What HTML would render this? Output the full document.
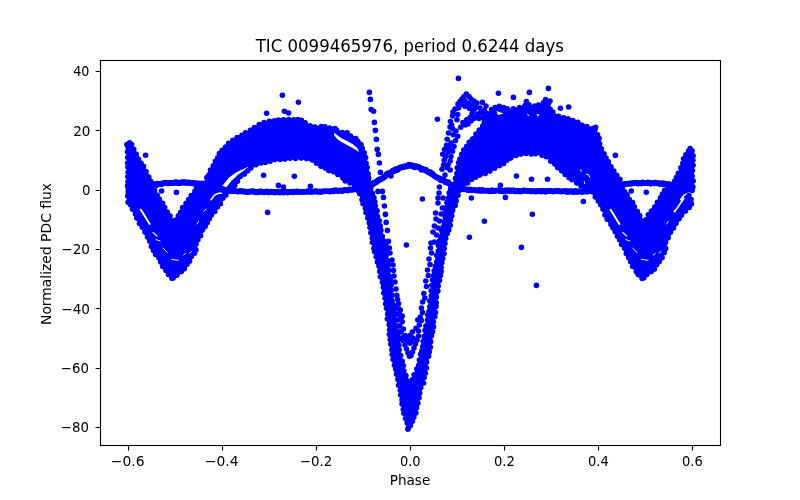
<!DOCTYPE html>
<html lang="en"><head><meta charset="utf-8"><title>TIC 0099465976, period 0.6244 days</title>
<style>html,body{margin:0;padding:0;background:#fff;overflow:hidden}svg{display:block}</style></head>
<body>
<svg width="800" height="500" viewBox="0 0 800 500">
<rect width="800" height="500" fill="#fff"/>
<g fill="#0000ff">
<polygon points="125.6,143 127,141 129,140.5 131.5,141 133,143 140,156 147,168.5 154,181 158,184 198,184 203,181 208.5,170 214,158.5 217.5,152.5 225,144 231,139.2 237,135.2 245,131.3 250,128.2 257.5,123.5 265,120.5 272.5,118.2 280,117.2 290,117.2 300,116.8 303,118.5 307,121.5 310,123.5 317.5,125 322,124.2 328,125.7 336,126 340,129.5 345.5,130.3 352,133.3 360,139.2 363.5,145 365.5,150.5 368,160 370,170 372,180 374,190 377,202 380,216 383,230 387.5,245 389.5,258 391.5,272 393.5,288 395.5,305 397.5,324 399.8,340 402.8,356 406,369 409,377 410.2,378.5 411.3,377 414.8,369 418,356 421,340 424.3,324 428,300 430.8,280 434,260 437.5,240 441,225 443.5,210 447,190 452,184 456,164 460,152 470,138 480,126 486,114 490,108 494,106 499.5,104.5 505,106.5 510,107.5 516,106.5 521,105 525,102.7 529,103 532.5,104 540,103 543,100.5 545.5,99 548,99.5 550.5,101 552,107.5 555,111.5 558,113.7 563,115.2 568.5,116.5 577.5,120 585,123.5 590,125.2 596,127 600,136 604,148 610,160 616,170 622,180 626,183 668,183 672,180 678,170 683,155 687,149 691.6,146.5 694.6,148.5 695,152 695,190 694,192 690,193.5 692,196 693.6,199 693.6,204 691,208 686.5,213 679,223.5 675.5,229 671.5,236.5 668,244 667.5,251.5 663,259 656,270 650,275.5 645,279.5 642,281 637,277 630,266 622,250 614,234 606,221 600,209 594,198 590,191 462,191 460,196 456,210 452,225 448,240 445,260 442,280 438.8,300 435.6,324 432.4,348 429,364 426,380 423,390 419,410 414,422 411,430 409.5,431.5 407.6,430.5 405,424 401,410 398,392 394,375 390,357 388,340 386,322 383,300 379,280 375,260 372,250 369,234 366,220 362,206 358,195 356,191 230,191 229,194.5 225,199.8 221.8,205 217.5,210.5 209.5,223 206,229 202,236.5 198.3,244 197.8,251.5 193.3,259 186.3,270 180.3,275.5 175.3,279.5 172.3,281 168,278 161,267 151,250 141,230 128,206 125.6,203" stroke="#fff" stroke-width="2.2" stroke-linejoin="round"/>
</g>
<g fill="#fff">
<polygon points="154,185 196,185 174,218.5" stroke="#fff" stroke-width="2.2" stroke-linejoin="round"/>
<polygon points="624,185 666,185 644,218.5" stroke="#fff" stroke-width="2.2" stroke-linejoin="round"/>
<polygon points="235,192 236.6,185.8 240.8,180.4 248,173.2 254,168.4 260,166 267,164.2 274,162.4 284,161.8 291,160.6 300,160 310,162 320,167.7 326,172.3 334,174.8 340,178.8 344,182.5 352,186.3 356,192" stroke="#fff" stroke-width="2.2" stroke-linejoin="round"/>
<polygon points="463,191 466,186 468,185 476,179.5 488,174.5 496,170 506,164 516,158 526,156 538,156 546,159 552,165 560,173 568,180 578,186 584,191" stroke="#fff" stroke-width="2.2" stroke-linejoin="round"/>
<polygon points="222,186.2 226.3,187.3 231.8,180.6 237.8,175 245,169.8 248,167.6 247.5,167 244.5,168.6 236,172.5 229,177.6"/>
<polygon points="334.2,132.5 337,135 341,138 347,141 353,144.3 357.5,148.3 359,152 353,148.3 347,145 341,141.8 337,138.8 334.2,135.5"/>
<polygon points="683.5,197 684.8,198.5 675,212.8 673.8,212"/>
<polygon points="496.5,111 503.5,113.5 498,115"/>
<polygon points="527.3,113 529.3,116 527.8,116"/>
<polygon points="536.5,114 539.8,114.5 537.5,116.8"/>
<polygon points="580.3,169.2 582.2,171 581.5,171.8 579.8,170"/>
<polygon points="586.3,173.3 589.2,174.8 590.4,177.6 589.4,177.8 588.4,175.6 586,174.3"/>
<polygon points="583.6,181 584.6,181 585.4,184 584.4,184"/>
</g>
<polyline points="140.9,209.7 149.7,224" fill="none" stroke="#fff" stroke-width="2.0" stroke-linecap="round"/>
<polyline points="610.6,209.7 619.4,224" fill="none" stroke="#fff" stroke-width="2.0" stroke-linecap="round"/>
<polyline points="153,232.5 157,236" fill="none" stroke="#fff" stroke-width="1.1" stroke-linecap="round"/>
<polyline points="622.7,232.5 626.7,236" fill="none" stroke="#fff" stroke-width="1.1" stroke-linecap="round"/>
<polyline points="156,239.5 160,241" fill="none" stroke="#fff" stroke-width="1.0" stroke-linecap="round"/>
<polyline points="625.7,239.5 629.7,241" fill="none" stroke="#fff" stroke-width="1.0" stroke-linecap="round"/>
<polyline points="163,248 167.3,252.6" fill="none" stroke="#fff" stroke-width="1.0" stroke-linecap="round"/>
<polyline points="632.7,248 637,252.6" fill="none" stroke="#fff" stroke-width="1.0" stroke-linecap="round"/>
<polyline points="171.7,259.4 178.3,260.3" fill="none" stroke="#fff" stroke-width="1.0" stroke-linecap="round"/>
<polyline points="641.4,259.4 648,260.3" fill="none" stroke="#fff" stroke-width="1.0" stroke-linecap="round"/>
<polyline points="183.5,255 185.5,253.5" fill="none" stroke="#fff" stroke-width="1.0" stroke-linecap="round"/>
<polyline points="653.2,255 655.2,253.5" fill="none" stroke="#fff" stroke-width="1.0" stroke-linecap="round"/>
<polyline points="189.5,253 191.5,251.5" fill="none" stroke="#fff" stroke-width="1.0" stroke-linecap="round"/>
<polyline points="659.2,253 661.2,251.5" fill="none" stroke="#fff" stroke-width="1.0" stroke-linecap="round"/>
<polyline points="211,199.8 214.5,195 218.5,193.2 221.5,193.3" fill="none" stroke="#fff" stroke-width="1.5" stroke-linecap="round"/>
<polyline points="680.7,199.8 684.2,195 688.2,193.2 691.2,193.3" fill="none" stroke="#fff" stroke-width="1.5" stroke-linecap="round"/>
<polyline points="204,211.5 206,209" fill="none" stroke="#fff" stroke-width="1.0" stroke-linecap="round"/>
<polyline points="673.7,211.5 675.7,209" fill="none" stroke="#fff" stroke-width="1.0" stroke-linecap="round"/>
<polyline points="197,224 198.5,221.5" fill="none" stroke="#fff" stroke-width="1.0" stroke-linecap="round"/>
<polyline points="666.7,224 668.2,221.5" fill="none" stroke="#fff" stroke-width="1.0" stroke-linecap="round"/>
<polyline points="128,189 140,186.5 154,184.3 165,183.2 175,182.6 190,182.9 204,184.4 215,187.5 225,190 235,191.2 250,191.7 280,192.1 300,191.9 320,191.5 340,190.7 352,189.7 360,188 366,186 372,184.7 382,178.7 390,172.7 400,167.7 408,165.7 416,166.7 424,169.7 434,175.7 444,180.7 450,184 458,187.5 468,189.8 480,190.5 500,190.8 530,191 560,191.3 580,191.5 595,191 605,189.5 615,187 626,184 635,183.3 644,182.8 655,183.2 664,183.8 672,185 682,187 692,189" fill="none" stroke="#0000ff" stroke-width="5.6" stroke-linejoin="round"/>
<g fill="#0000ff">
<circle cx="145.6" cy="155.2" r="2.78"/>
<circle cx="161.6" cy="191" r="2.78"/>
<circle cx="176.4" cy="192.4" r="2.78"/>
<circle cx="266.6" cy="113.2" r="2.78"/>
<circle cx="282.4" cy="95.2" r="2.78"/>
<circle cx="298.4" cy="102.2" r="2.78"/>
<circle cx="284.4" cy="111.2" r="2.78"/>
<circle cx="288.6" cy="113" r="2.78"/>
<circle cx="263.6" cy="175.2" r="2.78"/>
<circle cx="294.4" cy="176.3" r="2.78"/>
<circle cx="278.4" cy="185.4" r="2.78"/>
<circle cx="283.4" cy="187" r="2.78"/>
<circle cx="310.4" cy="186.2" r="2.78"/>
<circle cx="267.6" cy="212.4" r="2.78"/>
<circle cx="406.4" cy="245" r="2.78"/>
<circle cx="391" cy="176" r="2.78"/>
<circle cx="422.4" cy="199" r="2.78"/>
<circle cx="437.4" cy="119.2" r="2.78"/>
<circle cx="458.4" cy="78.4" r="2.78"/>
<circle cx="498.4" cy="93.2" r="2.78"/>
<circle cx="513.4" cy="97.4" r="2.78"/>
<circle cx="529.4" cy="92.4" r="2.78"/>
<circle cx="548.4" cy="88.4" r="2.78"/>
<circle cx="526.4" cy="101.6" r="2.78"/>
<circle cx="545.6" cy="99.6" r="2.78"/>
<circle cx="550" cy="101" r="2.78"/>
<circle cx="560.4" cy="108.2" r="2.78"/>
<circle cx="568.6" cy="107" r="2.78"/>
<circle cx="595.6" cy="127.4" r="2.78"/>
<circle cx="615.4" cy="155.4" r="2.78"/>
<circle cx="516.4" cy="176.1" r="2.78"/>
<circle cx="531.5" cy="179.2" r="2.78"/>
<circle cx="547.5" cy="179.2" r="2.78"/>
<circle cx="500.4" cy="185.4" r="2.78"/>
<circle cx="505.4" cy="197.4" r="2.78"/>
<circle cx="471.4" cy="198" r="2.78"/>
<circle cx="532.4" cy="214.3" r="2.78"/>
<circle cx="484.4" cy="221.3" r="2.78"/>
<circle cx="469.4" cy="237.3" r="2.78"/>
<circle cx="521.4" cy="247.4" r="2.78"/>
<circle cx="536.4" cy="285.4" r="2.78"/>
<circle cx="583.4" cy="201.5" r="2.78"/>
<circle cx="631.3" cy="191" r="2.78"/>
<circle cx="646.3" cy="192.2" r="2.78"/>
<circle cx="369.4" cy="92.4" r="2.78"/>
<circle cx="370.4" cy="99.4" r="2.78"/>
<circle cx="371.2" cy="109.6" r="2.78"/>
<circle cx="373.6" cy="111.2" r="2.78"/>
<circle cx="374.4" cy="122.4" r="2.78"/>
<circle cx="375.4" cy="130.4" r="2.78"/>
<circle cx="376.4" cy="139.4" r="2.78"/>
<circle cx="377.2" cy="149.4" r="2.78"/>
<circle cx="378.4" cy="154.4" r="2.78"/>
<circle cx="379.4" cy="163" r="2.78"/>
<circle cx="380.4" cy="172.4" r="2.78"/>
<circle cx="378" cy="191.4" r="2.78"/>
<circle cx="382.4" cy="191.4" r="2.78"/>
<circle cx="383.4" cy="197.4" r="2.78"/>
<circle cx="384.4" cy="206" r="2.78"/>
<circle cx="385.4" cy="214.4" r="2.78"/>
<circle cx="386.2" cy="222.4" r="2.78"/>
<circle cx="387.4" cy="230.4" r="2.78"/>
<circle cx="388.4" cy="241.4" r="2.78"/>
<circle cx="389.4" cy="248" r="2.78"/>
<circle cx="390" cy="253" r="2.78"/>
<circle cx="392" cy="260" r="2.78"/>
<circle cx="393" cy="265" r="2.78"/>
<circle cx="393.5" cy="270.5" r="2.78"/>
<circle cx="394" cy="276" r="2.78"/>
<circle cx="395" cy="282" r="2.78"/>
<circle cx="396" cy="289" r="2.78"/>
<circle cx="396.8" cy="295.4" r="2.78"/>
<circle cx="397.6" cy="299.5" r="2.78"/>
<circle cx="398.6" cy="303.8" r="2.78"/>
<circle cx="399" cy="309" r="2.78"/>
<circle cx="399.8" cy="314.6" r="2.78"/>
<circle cx="401" cy="318" r="2.78"/>
<circle cx="402.2" cy="321.8" r="2.78"/>
<circle cx="399.8" cy="326" r="2.78"/>
<circle cx="403.4" cy="329" r="2.78"/>
<circle cx="401" cy="332" r="2.78"/>
<circle cx="405.2" cy="335.6" r="2.78"/>
<circle cx="402.8" cy="338" r="2.78"/>
<circle cx="403.5" cy="341" r="2.78"/>
<circle cx="405" cy="345" r="2.78"/>
<circle cx="406.5" cy="349" r="2.78"/>
<circle cx="408" cy="353" r="2.78"/>
<circle cx="409.6" cy="356.2" r="2.78"/>
<circle cx="396.5" cy="308" r="2.78"/>
<circle cx="396.8" cy="314" r="2.78"/>
<circle cx="397.5" cy="320" r="2.78"/>
<circle cx="398.5" cy="326" r="2.78"/>
<circle cx="399.8" cy="332" r="2.78"/>
<circle cx="401.2" cy="338" r="2.78"/>
<circle cx="400.3" cy="310" r="2.78"/>
<circle cx="402.2" cy="316" r="2.78"/>
<circle cx="439.4" cy="187" r="2.78"/>
<circle cx="439" cy="193" r="2.78"/>
<circle cx="438" cy="198" r="2.78"/>
<circle cx="438" cy="203" r="2.78"/>
<circle cx="435.6" cy="213" r="2.78"/>
<circle cx="436" cy="219" r="2.78"/>
<circle cx="434.4" cy="226" r="2.78"/>
<circle cx="433" cy="232" r="2.78"/>
<circle cx="431" cy="243" r="2.78"/>
<circle cx="443" cy="198" r="2.78"/>
<circle cx="442.4" cy="208" r="2.78"/>
<circle cx="441" cy="214" r="2.78"/>
<circle cx="439.5" cy="221" r="2.78"/>
<circle cx="438" cy="228" r="2.78"/>
<circle cx="436.5" cy="235" r="2.78"/>
<circle cx="434.5" cy="242" r="2.78"/>
<circle cx="430.5" cy="248" r="2.78"/>
<circle cx="431.5" cy="253" r="2.78"/>
<circle cx="429" cy="259" r="2.78"/>
<circle cx="430" cy="264.5" r="2.78"/>
<circle cx="427.5" cy="270" r="2.78"/>
<circle cx="428.3" cy="275.5" r="2.78"/>
<circle cx="425.8" cy="281" r="2.78"/>
<circle cx="426.5" cy="286.5" r="2.78"/>
<circle cx="423.8" cy="293.6" r="2.78"/>
<circle cx="424.8" cy="298" r="2.78"/>
<circle cx="422.6" cy="302" r="2.78"/>
<circle cx="421.4" cy="308" r="2.78"/>
<circle cx="422.5" cy="312.5" r="2.78"/>
<circle cx="420.2" cy="317" r="2.78"/>
<circle cx="417.8" cy="320" r="2.78"/>
<circle cx="421.4" cy="320.6" r="2.78"/>
<circle cx="419.3" cy="325" r="2.78"/>
<circle cx="416" cy="328.4" r="2.78"/>
<circle cx="418.5" cy="331" r="2.78"/>
<circle cx="412.4" cy="332" r="2.78"/>
<circle cx="410" cy="335.6" r="2.78"/>
<circle cx="418.5" cy="336" r="2.78"/>
<circle cx="417" cy="340" r="2.78"/>
<circle cx="415.5" cy="344" r="2.78"/>
<circle cx="414" cy="348" r="2.78"/>
<circle cx="412.5" cy="352" r="2.78"/>
<circle cx="411" cy="355.5" r="2.78"/>
<circle cx="407" cy="338.5" r="2.78"/>
<circle cx="408.5" cy="341.5" r="2.78"/>
<circle cx="410" cy="343.2" r="2.78"/>
<circle cx="411.5" cy="341" r="2.78"/>
<circle cx="413" cy="338" r="2.78"/>
<circle cx="442" cy="169.2" r="2.78"/>
<circle cx="444.2" cy="160.2" r="2.78"/>
<circle cx="442.7" cy="154.2" r="2.78"/>
<circle cx="445.7" cy="156.5" r="2.78"/>
<circle cx="446.5" cy="145.2" r="2.78"/>
<circle cx="444.5" cy="149.5" r="2.78"/>
<circle cx="447.2" cy="139.2" r="2.78"/>
<circle cx="448.5" cy="133" r="2.78"/>
<circle cx="450" cy="127" r="2.78"/>
<circle cx="451.7" cy="125" r="2.78"/>
<circle cx="450.5" cy="121.5" r="2.78"/>
<circle cx="452.5" cy="116" r="2.78"/>
<circle cx="453" cy="112" r="2.78"/>
<circle cx="455" cy="109" r="2.78"/>
<circle cx="458" cy="104" r="2.78"/>
<circle cx="460" cy="101.5" r="2.78"/>
<circle cx="462" cy="99" r="2.78"/>
<circle cx="464" cy="96.5" r="2.78"/>
<circle cx="466.4" cy="94" r="2.78"/>
<circle cx="469" cy="96.5" r="2.78"/>
<circle cx="471" cy="99" r="2.78"/>
<circle cx="474" cy="101" r="2.78"/>
<circle cx="477" cy="103" r="2.78"/>
<circle cx="482.4" cy="102.4" r="2.78"/>
<circle cx="480" cy="108" r="2.78"/>
<circle cx="486" cy="106" r="2.78"/>
<circle cx="445" cy="175" r="2.78"/>
<circle cx="443.5" cy="165" r="2.78"/>
<circle cx="450.2" cy="170" r="2.78"/>
<circle cx="447.2" cy="167.7" r="2.78"/>
<circle cx="448" cy="164.7" r="2.78"/>
<circle cx="450.2" cy="161" r="2.78"/>
<circle cx="451" cy="156.5" r="2.78"/>
<circle cx="448" cy="152" r="2.78"/>
<circle cx="452.5" cy="151.2" r="2.78"/>
<circle cx="451" cy="143" r="2.78"/>
<circle cx="455.5" cy="140.7" r="2.78"/>
<circle cx="453.2" cy="134.7" r="2.78"/>
<circle cx="457.7" cy="136.2" r="2.78"/>
<circle cx="452.5" cy="128.7" r="2.78"/>
<circle cx="460.7" cy="127.2" r="2.78"/>
<circle cx="465.2" cy="125" r="2.78"/>
<circle cx="457" cy="119.7" r="2.78"/>
<circle cx="457.7" cy="114.5" r="2.78"/>
<circle cx="466.7" cy="119.7" r="2.78"/>
<circle cx="470" cy="117.5" r="2.78"/>
<circle cx="472" cy="114" r="2.78"/>
<circle cx="476" cy="117" r="2.78"/>
<circle cx="474" cy="110" r="2.78"/>
<circle cx="463" cy="122.5" r="2.78"/>
<circle cx="456" cy="131" r="2.78"/>
<circle cx="454" cy="146.5" r="2.78"/>
<circle cx="449" cy="147.5" r="2.78"/>
<circle cx="458.5" cy="108" r="2.78"/>
<circle cx="461.5" cy="104.5" r="2.78"/>
<circle cx="465" cy="101" r="2.78"/>
<circle cx="468.5" cy="103.5" r="2.78"/>
<circle cx="472" cy="105" r="2.78"/>
<circle cx="476" cy="107.5" r="2.78"/>
<circle cx="468" cy="124" r="2.78"/>
<circle cx="471" cy="121" r="2.78"/>
<circle cx="474" cy="118.5" r="2.78"/>
<circle cx="478" cy="114" r="2.78"/>
<circle cx="481" cy="112" r="2.78"/>
<circle cx="465" cy="106.3" r="2.78"/>
<circle cx="469.5" cy="108.5" r="2.78"/>
<circle cx="473" cy="111.5" r="2.78"/>
<circle cx="481.5" cy="113" r="2.78"/>
<circle cx="484.5" cy="110.5" r="2.78"/>
<circle cx="483" cy="117.5" r="2.78"/>
<circle cx="486.5" cy="113.5" r="2.78"/>
<circle cx="479" cy="118.5" r="2.78"/>
<circle cx="126.9" cy="144.6" r="2.78"/>
<circle cx="129.7" cy="142.8" r="2.78"/>
<circle cx="131.6" cy="144.6" r="2.78"/>
<circle cx="133.7" cy="149.4" r="2.78"/>
<circle cx="136.2" cy="154.2" r="2.78"/>
<circle cx="138.5" cy="159.2" r="2.78"/>
<circle cx="141.1" cy="163.2" r="2.78"/>
<circle cx="143.5" cy="166.3" r="2.78"/>
<circle cx="146" cy="171.6" r="2.78"/>
<circle cx="148.8" cy="177" r="2.78"/>
<circle cx="150.8" cy="181.5" r="2.78"/>
<circle cx="156.4" cy="185.5" r="2.78"/>
<circle cx="198.6" cy="185.3" r="2.78"/>
<circle cx="203.7" cy="183.6" r="2.78"/>
<circle cx="206.8" cy="177.6" r="2.78"/>
<circle cx="209.1" cy="174.7" r="2.78"/>
<circle cx="210.5" cy="170.1" r="2.78"/>
<circle cx="213.3" cy="165.9" r="2.78"/>
<circle cx="215.4" cy="161.3" r="2.78"/>
<circle cx="217.7" cy="157.8" r="2.78"/>
<circle cx="219.4" cy="153.6" r="2.78"/>
<circle cx="222.2" cy="150.3" r="2.78"/>
<circle cx="225.6" cy="147" r="2.78"/>
<circle cx="228.7" cy="143.4" r="2.78"/>
<circle cx="232.9" cy="140.2" r="2.78"/>
<circle cx="237.1" cy="137.5" r="2.78"/>
<circle cx="242" cy="135.4" r="2.78"/>
<circle cx="245.4" cy="132.9" r="2.78"/>
<circle cx="250.5" cy="130.2" r="2.78"/>
<circle cx="254.4" cy="127.5" r="2.78"/>
<circle cx="259.2" cy="124.6" r="2.78"/>
<circle cx="264.1" cy="122.6" r="2.78"/>
<circle cx="269.4" cy="121.2" r="2.78"/>
<circle cx="274.4" cy="120.7" r="2.78"/>
<circle cx="278.4" cy="120.1" r="2.78"/>
<circle cx="283.5" cy="119.9" r="2.78"/>
<circle cx="288.6" cy="119.5" r="2.78"/>
<circle cx="293.9" cy="119.7" r="2.78"/>
<circle cx="298" cy="119.5" r="2.78"/>
<circle cx="301.4" cy="120.4" r="2.78"/>
<circle cx="305.1" cy="122.7" r="2.78"/>
<circle cx="310.2" cy="125.7" r="2.78"/>
<circle cx="315.1" cy="127" r="2.78"/>
<circle cx="321.2" cy="126.6" r="2.78"/>
<circle cx="324.9" cy="126.7" r="2.78"/>
<circle cx="329.6" cy="128.1" r="2.78"/>
<circle cx="334.9" cy="128.5" r="2.78"/>
<circle cx="336.6" cy="130.1" r="2.78"/>
<circle cx="342.3" cy="132.5" r="2.78"/>
<circle cx="347.1" cy="132.9" r="2.78"/>
<circle cx="350.5" cy="136.1" r="2.78"/>
<circle cx="355.8" cy="138.6" r="2.78"/>
<circle cx="357.9" cy="141.6" r="2.78"/>
<circle cx="361" cy="144.6" r="2.78"/>
<circle cx="362.3" cy="148.2" r="2.78"/>
<circle cx="364.2" cy="152.9" r="2.78"/>
<circle cx="365.6" cy="157.6" r="2.78"/>
<circle cx="366.1" cy="163.4" r="2.78"/>
<circle cx="367.2" cy="167.5" r="2.78"/>
<circle cx="368.2" cy="174" r="2.78"/>
<circle cx="368.7" cy="178.1" r="2.78"/>
<circle cx="370.3" cy="183.7" r="2.78"/>
<circle cx="370.8" cy="187.9" r="2.78"/>
<circle cx="372.4" cy="193.2" r="2.78"/>
<circle cx="373.9" cy="197.5" r="2.78"/>
<circle cx="374.8" cy="201.8" r="2.78"/>
<circle cx="375.3" cy="206.1" r="2.78"/>
<circle cx="377.1" cy="210.9" r="2.78"/>
<circle cx="377.5" cy="216.5" r="2.78"/>
<circle cx="379.3" cy="220.8" r="2.78"/>
<circle cx="380.2" cy="225.9" r="2.78"/>
<circle cx="380.9" cy="230.4" r="2.78"/>
<circle cx="382.3" cy="236.2" r="2.78"/>
<circle cx="383.4" cy="240.6" r="2.78"/>
<circle cx="385.8" cy="245.6" r="2.78"/>
<circle cx="386.6" cy="249.7" r="2.78"/>
<circle cx="386.2" cy="255.1" r="2.78"/>
<circle cx="387.5" cy="260.8" r="2.78"/>
<circle cx="388.4" cy="264.4" r="2.78"/>
<circle cx="388.7" cy="269.9" r="2.78"/>
<circle cx="389.4" cy="276.2" r="2.78"/>
<circle cx="390.5" cy="280.4" r="2.78"/>
<circle cx="391" cy="285.3" r="2.78"/>
<circle cx="391.2" cy="290.6" r="2.78"/>
<circle cx="391.7" cy="295.2" r="2.78"/>
<circle cx="392.1" cy="301.1" r="2.78"/>
<circle cx="393.4" cy="305.1" r="2.78"/>
<circle cx="393.4" cy="310.9" r="2.78"/>
<circle cx="394.6" cy="315.3" r="2.78"/>
<circle cx="394.7" cy="320.4" r="2.78"/>
<circle cx="395.3" cy="325.9" r="2.78"/>
<circle cx="396.1" cy="330.9" r="2.78"/>
<circle cx="397.5" cy="335.9" r="2.78"/>
<circle cx="398.2" cy="340.4" r="2.78"/>
<circle cx="398.9" cy="345.2" r="2.78"/>
<circle cx="399.2" cy="349.7" r="2.78"/>
<circle cx="400.6" cy="355.6" r="2.78"/>
<circle cx="402.2" cy="361.2" r="2.78"/>
<circle cx="403.3" cy="365.8" r="2.78"/>
<circle cx="403.9" cy="371" r="2.78"/>
<circle cx="405.9" cy="375.5" r="2.78"/>
<circle cx="412.3" cy="379.9" r="2.78"/>
<circle cx="414.1" cy="374.8" r="2.78"/>
<circle cx="416.8" cy="369" r="2.78"/>
<circle cx="418.7" cy="365.3" r="2.78"/>
<circle cx="419.4" cy="360.1" r="2.78"/>
<circle cx="420.6" cy="354.2" r="2.78"/>
<circle cx="421.7" cy="351" r="2.78"/>
<circle cx="422.7" cy="346.5" r="2.78"/>
<circle cx="423.2" cy="341.3" r="2.78"/>
<circle cx="424.1" cy="336.4" r="2.78"/>
<circle cx="425" cy="330.3" r="2.78"/>
<circle cx="425.9" cy="326.1" r="2.78"/>
<circle cx="427.5" cy="320.1" r="2.78"/>
<circle cx="427.8" cy="315" r="2.78"/>
<circle cx="429" cy="311.6" r="2.78"/>
<circle cx="429.8" cy="306.8" r="2.78"/>
<circle cx="429.8" cy="301" r="2.78"/>
<circle cx="431.3" cy="295.9" r="2.78"/>
<circle cx="431.2" cy="290.7" r="2.78"/>
<circle cx="431.9" cy="285.3" r="2.78"/>
<circle cx="432.6" cy="280.1" r="2.78"/>
<circle cx="433.4" cy="275.8" r="2.78"/>
<circle cx="434.2" cy="270.9" r="2.78"/>
<circle cx="435.3" cy="266.2" r="2.78"/>
<circle cx="436.7" cy="262.1" r="2.78"/>
<circle cx="436.6" cy="255.3" r="2.78"/>
<circle cx="438.3" cy="251" r="2.78"/>
<circle cx="438.4" cy="245.5" r="2.78"/>
<circle cx="439.6" cy="240.9" r="2.78"/>
<circle cx="440.8" cy="236.9" r="2.78"/>
<circle cx="441.8" cy="230.9" r="2.78"/>
<circle cx="443.1" cy="226.8" r="2.78"/>
<circle cx="444.2" cy="221.7" r="2.78"/>
<circle cx="445.2" cy="216.7" r="2.78"/>
<circle cx="445.3" cy="212.3" r="2.78"/>
<circle cx="446.7" cy="207" r="2.78"/>
<circle cx="447" cy="202.4" r="2.78"/>
<circle cx="448.3" cy="198.2" r="2.78"/>
<circle cx="449.2" cy="192.7" r="2.78"/>
<circle cx="450.6" cy="188.8" r="2.78"/>
<circle cx="455" cy="184" r="2.78"/>
<circle cx="455.6" cy="178.4" r="2.78"/>
<circle cx="456.9" cy="173.5" r="2.78"/>
<circle cx="457.3" cy="167.8" r="2.78"/>
<circle cx="458.6" cy="162.8" r="2.78"/>
<circle cx="459.9" cy="159.1" r="2.78"/>
<circle cx="461.7" cy="154.2" r="2.78"/>
<circle cx="463.7" cy="150" r="2.78"/>
<circle cx="466.6" cy="146.5" r="2.78"/>
<circle cx="469.2" cy="142.3" r="2.78"/>
<circle cx="472.4" cy="139" r="2.78"/>
<circle cx="476" cy="134" r="2.78"/>
<circle cx="479.3" cy="130.1" r="2.78"/>
<circle cx="482.7" cy="126" r="2.78"/>
<circle cx="484.3" cy="122.1" r="2.78"/>
<circle cx="486.1" cy="118" r="2.78"/>
<circle cx="488.4" cy="114.2" r="2.78"/>
<circle cx="491.6" cy="109.6" r="2.78"/>
<circle cx="495.1" cy="107.5" r="2.78"/>
<circle cx="499.3" cy="106.3" r="2.78"/>
<circle cx="503.5" cy="107.6" r="2.78"/>
<circle cx="507.2" cy="108.8" r="2.78"/>
<circle cx="513.3" cy="108.9" r="2.78"/>
<circle cx="519.6" cy="107.5" r="2.78"/>
<circle cx="525.2" cy="105.5" r="2.78"/>
<circle cx="528.9" cy="104.9" r="2.78"/>
<circle cx="534.8" cy="106" r="2.78"/>
<circle cx="538.5" cy="105.1" r="2.78"/>
<circle cx="543.4" cy="102.8" r="2.78"/>
<circle cx="546.6" cy="101.4" r="2.78"/>
<circle cx="548.6" cy="102.9" r="2.78"/>
<circle cx="550.2" cy="109.3" r="2.78"/>
<circle cx="552.8" cy="112" r="2.78"/>
<circle cx="558.6" cy="116.3" r="2.78"/>
<circle cx="563.8" cy="117.9" r="2.78"/>
<circle cx="568.1" cy="118.9" r="2.78"/>
<circle cx="572.9" cy="120.5" r="2.78"/>
<circle cx="577.8" cy="122.3" r="2.78"/>
<circle cx="581.9" cy="125.3" r="2.78"/>
<circle cx="586.8" cy="126.6" r="2.78"/>
<circle cx="592.9" cy="128.5" r="2.78"/>
<circle cx="594.9" cy="129.7" r="2.78"/>
<circle cx="597.5" cy="134.8" r="2.78"/>
<circle cx="599" cy="138.4" r="2.78"/>
<circle cx="599.6" cy="143.7" r="2.78"/>
<circle cx="601.3" cy="148.8" r="2.78"/>
<circle cx="604" cy="153.8" r="2.78"/>
<circle cx="606" cy="158" r="2.78"/>
<circle cx="608.4" cy="161.7" r="2.78"/>
<circle cx="611" cy="166.9" r="2.78"/>
<circle cx="613.8" cy="171" r="2.78"/>
<circle cx="616.7" cy="175.4" r="2.78"/>
<circle cx="619.9" cy="179.4" r="2.78"/>
<circle cx="623.1" cy="184.4" r="2.78"/>
<circle cx="668.9" cy="184.3" r="2.78"/>
<circle cx="674.8" cy="181" r="2.78"/>
<circle cx="676.5" cy="177.3" r="2.78"/>
<circle cx="678.4" cy="173.3" r="2.78"/>
<circle cx="680.9" cy="167.8" r="2.78"/>
<circle cx="682.8" cy="163.3" r="2.78"/>
<circle cx="683.6" cy="158.8" r="2.78"/>
<circle cx="685.9" cy="154.7" r="2.78"/>
<circle cx="688.5" cy="151.1" r="2.78"/>
<circle cx="690.1" cy="148.6" r="2.78"/>
<circle cx="692.1" cy="150.7" r="2.78"/>
<circle cx="693.1" cy="155.9" r="2.78"/>
<circle cx="692.9" cy="160.2" r="2.78"/>
<circle cx="693.1" cy="165.3" r="2.78"/>
<circle cx="692.5" cy="170.6" r="2.78"/>
<circle cx="692.2" cy="176.2" r="2.78"/>
<circle cx="693.2" cy="181.1" r="2.78"/>
<circle cx="692.9" cy="186.9" r="2.78"/>
<circle cx="692.1" cy="190.5" r="2.78"/>
<circle cx="689" cy="195.6" r="2.78"/>
<circle cx="691.1" cy="199.6" r="2.78"/>
<circle cx="691.4" cy="203.9" r="2.78"/>
<circle cx="689.2" cy="207.4" r="2.78"/>
<circle cx="685.5" cy="211.1" r="2.78"/>
<circle cx="681.5" cy="215.2" r="2.78"/>
<circle cx="679.1" cy="218.7" r="2.78"/>
<circle cx="676" cy="223.4" r="2.78"/>
<circle cx="673.6" cy="227.9" r="2.78"/>
<circle cx="670.5" cy="232.3" r="2.78"/>
<circle cx="668.2" cy="237.8" r="2.78"/>
<circle cx="665.5" cy="242.7" r="2.78"/>
<circle cx="665.8" cy="248.5" r="2.78"/>
<circle cx="664.2" cy="252.7" r="2.78"/>
<circle cx="662.1" cy="257.8" r="2.78"/>
<circle cx="659.3" cy="261.6" r="2.78"/>
<circle cx="656.6" cy="264.8" r="2.78"/>
<circle cx="654.4" cy="269.1" r="2.78"/>
<circle cx="651.2" cy="271.6" r="2.78"/>
<circle cx="646.9" cy="274.4" r="2.78"/>
<circle cx="644" cy="277.8" r="2.78"/>
<circle cx="642.1" cy="278.4" r="2.78"/>
<circle cx="638.1" cy="274.6" r="2.78"/>
<circle cx="636.3" cy="271.6" r="2.78"/>
<circle cx="632.7" cy="266.5" r="2.78"/>
<circle cx="630.7" cy="261.7" r="2.78"/>
<circle cx="628.7" cy="257.7" r="2.78"/>
<circle cx="626.3" cy="253.5" r="2.78"/>
<circle cx="624.6" cy="248.3" r="2.78"/>
<circle cx="621.5" cy="244.5" r="2.78"/>
<circle cx="619.6" cy="239.7" r="2.78"/>
<circle cx="617.5" cy="236.2" r="2.78"/>
<circle cx="615.2" cy="231.7" r="2.78"/>
<circle cx="612.8" cy="227.7" r="2.78"/>
<circle cx="611" cy="224.4" r="2.78"/>
<circle cx="607.2" cy="219.2" r="2.78"/>
<circle cx="604.9" cy="215" r="2.78"/>
<circle cx="603" cy="209.2" r="2.78"/>
<circle cx="600.8" cy="204.8" r="2.78"/>
<circle cx="598.3" cy="201.1" r="2.78"/>
<circle cx="595.3" cy="197.1" r="2.78"/>
<circle cx="593.2" cy="192.3" r="2.78"/>
<circle cx="460.2" cy="190.1" r="2.78"/>
<circle cx="458" cy="195.2" r="2.78"/>
<circle cx="456.1" cy="200.9" r="2.78"/>
<circle cx="455.3" cy="205.4" r="2.78"/>
<circle cx="452.6" cy="210.4" r="2.78"/>
<circle cx="451.8" cy="215.7" r="2.78"/>
<circle cx="450.5" cy="220.3" r="2.78"/>
<circle cx="450.3" cy="225.2" r="2.78"/>
<circle cx="448.8" cy="230.1" r="2.78"/>
<circle cx="447.3" cy="233.6" r="2.78"/>
<circle cx="445.7" cy="238.6" r="2.78"/>
<circle cx="445" cy="243.5" r="2.78"/>
<circle cx="444.3" cy="248.6" r="2.78"/>
<circle cx="444.1" cy="253.7" r="2.78"/>
<circle cx="442.8" cy="258.5" r="2.78"/>
<circle cx="441.8" cy="262.8" r="2.78"/>
<circle cx="441.1" cy="267.5" r="2.78"/>
<circle cx="441.2" cy="271.6" r="2.78"/>
<circle cx="440.4" cy="275.6" r="2.78"/>
<circle cx="439.6" cy="280.6" r="2.78"/>
<circle cx="438.2" cy="286.1" r="2.78"/>
<circle cx="437.9" cy="291.1" r="2.78"/>
<circle cx="436.4" cy="297" r="2.78"/>
<circle cx="436.2" cy="302.7" r="2.78"/>
<circle cx="436" cy="306.4" r="2.78"/>
<circle cx="435.5" cy="312.4" r="2.78"/>
<circle cx="434.8" cy="316.8" r="2.78"/>
<circle cx="433.4" cy="322" r="2.78"/>
<circle cx="433.5" cy="326.9" r="2.78"/>
<circle cx="432.6" cy="331.7" r="2.78"/>
<circle cx="431.5" cy="335.8" r="2.78"/>
<circle cx="430.7" cy="341.7" r="2.78"/>
<circle cx="430.4" cy="347.3" r="2.78"/>
<circle cx="429.3" cy="352" r="2.78"/>
<circle cx="428.6" cy="356.3" r="2.78"/>
<circle cx="426.6" cy="362.2" r="2.78"/>
<circle cx="426.5" cy="368" r="2.78"/>
<circle cx="425.3" cy="373.2" r="2.78"/>
<circle cx="424.2" cy="377.6" r="2.78"/>
<circle cx="423.6" cy="383" r="2.78"/>
<circle cx="420.8" cy="387.7" r="2.78"/>
<circle cx="419.7" cy="393.2" r="2.78"/>
<circle cx="419" cy="397.7" r="2.78"/>
<circle cx="417.9" cy="403.2" r="2.78"/>
<circle cx="416.6" cy="407.7" r="2.78"/>
<circle cx="415.9" cy="413.1" r="2.78"/>
<circle cx="413.8" cy="417.2" r="2.78"/>
<circle cx="412.4" cy="421.2" r="2.78"/>
<circle cx="410.4" cy="425.5" r="2.78"/>
<circle cx="407.9" cy="429.2" r="2.78"/>
<circle cx="408.4" cy="427.5" r="2.78"/>
<circle cx="407.2" cy="423" r="2.78"/>
<circle cx="405.5" cy="418.6" r="2.78"/>
<circle cx="403.9" cy="413.2" r="2.78"/>
<circle cx="403.3" cy="409.5" r="2.78"/>
<circle cx="402" cy="404.1" r="2.78"/>
<circle cx="402" cy="399.8" r="2.78"/>
<circle cx="400.6" cy="395.1" r="2.78"/>
<circle cx="400.3" cy="390.2" r="2.78"/>
<circle cx="398.6" cy="385.2" r="2.78"/>
<circle cx="397.9" cy="379.6" r="2.78"/>
<circle cx="396.6" cy="374.3" r="2.78"/>
<circle cx="395.7" cy="369" r="2.78"/>
<circle cx="394.5" cy="365.3" r="2.78"/>
<circle cx="393.1" cy="359.5" r="2.78"/>
<circle cx="392.2" cy="354.6" r="2.78"/>
<circle cx="391.8" cy="349.8" r="2.78"/>
<circle cx="390.8" cy="344.3" r="2.78"/>
<circle cx="390.2" cy="339.6" r="2.78"/>
<circle cx="389.3" cy="334.5" r="2.78"/>
<circle cx="389.7" cy="329.7" r="2.78"/>
<circle cx="389.2" cy="324.7" r="2.78"/>
<circle cx="387.4" cy="319" r="2.78"/>
<circle cx="387.7" cy="314" r="2.78"/>
<circle cx="386.5" cy="308.2" r="2.78"/>
<circle cx="385.6" cy="303.8" r="2.78"/>
<circle cx="385.1" cy="298.3" r="2.78"/>
<circle cx="383.8" cy="293.1" r="2.78"/>
<circle cx="383.4" cy="287.6" r="2.78"/>
<circle cx="382.5" cy="282.4" r="2.78"/>
<circle cx="380.4" cy="276.7" r="2.78"/>
<circle cx="379.8" cy="271.4" r="2.78"/>
<circle cx="378.9" cy="266.1" r="2.78"/>
<circle cx="377.4" cy="261.9" r="2.78"/>
<circle cx="376.2" cy="256.8" r="2.78"/>
<circle cx="374.6" cy="251.8" r="2.78"/>
<circle cx="373.8" cy="248.2" r="2.78"/>
<circle cx="372.4" cy="242.5" r="2.78"/>
<circle cx="372.3" cy="237.7" r="2.78"/>
<circle cx="370.8" cy="232.7" r="2.78"/>
<circle cx="370" cy="227.5" r="2.78"/>
<circle cx="369.3" cy="223.1" r="2.78"/>
<circle cx="367.8" cy="218" r="2.78"/>
<circle cx="366" cy="212.7" r="2.78"/>
<circle cx="365.4" cy="208.6" r="2.78"/>
<circle cx="363" cy="203.8" r="2.78"/>
<circle cx="362" cy="199.8" r="2.78"/>
<circle cx="359.8" cy="193.8" r="2.78"/>
<circle cx="228.2" cy="190.9" r="2.78"/>
<circle cx="225.9" cy="195.1" r="2.78"/>
<circle cx="222.8" cy="198.3" r="2.78"/>
<circle cx="220.4" cy="203.8" r="2.78"/>
<circle cx="217.4" cy="206.9" r="2.78"/>
<circle cx="214.7" cy="211.4" r="2.78"/>
<circle cx="211.4" cy="215" r="2.78"/>
<circle cx="209.4" cy="218.8" r="2.78"/>
<circle cx="207.2" cy="222.8" r="2.78"/>
<circle cx="205.1" cy="226.6" r="2.78"/>
<circle cx="202.5" cy="230.1" r="2.78"/>
<circle cx="200.6" cy="235.8" r="2.78"/>
<circle cx="197.9" cy="239.7" r="2.78"/>
<circle cx="196.1" cy="244.1" r="2.78"/>
<circle cx="195.9" cy="249.9" r="2.78"/>
<circle cx="194.5" cy="253.2" r="2.78"/>
<circle cx="191.4" cy="256.6" r="2.78"/>
<circle cx="189.5" cy="261.2" r="2.78"/>
<circle cx="187" cy="264.3" r="2.78"/>
<circle cx="184.4" cy="268.8" r="2.78"/>
<circle cx="181.4" cy="271.6" r="2.78"/>
<circle cx="176.8" cy="275.2" r="2.78"/>
<circle cx="173.2" cy="278" r="2.78"/>
<circle cx="171.9" cy="278.3" r="2.78"/>
<circle cx="168.5" cy="274.5" r="2.78"/>
<circle cx="165.9" cy="270.4" r="2.78"/>
<circle cx="162.7" cy="266.4" r="2.78"/>
<circle cx="160.7" cy="262.1" r="2.78"/>
<circle cx="159" cy="257.9" r="2.78"/>
<circle cx="155.6" cy="254.4" r="2.78"/>
<circle cx="153.4" cy="250.4" r="2.78"/>
<circle cx="151.4" cy="246.5" r="2.78"/>
<circle cx="149.7" cy="241.2" r="2.78"/>
<circle cx="147.5" cy="237.1" r="2.78"/>
<circle cx="144.9" cy="232.1" r="2.78"/>
<circle cx="142.3" cy="227.3" r="2.78"/>
<circle cx="139.5" cy="223.6" r="2.78"/>
<circle cx="136.7" cy="218.1" r="2.78"/>
<circle cx="135.4" cy="214" r="2.78"/>
<circle cx="132.5" cy="209.2" r="2.78"/>
<circle cx="130.5" cy="204.7" r="2.78"/>
<circle cx="128.1" cy="202.2" r="2.78"/>
<circle cx="127.8" cy="195.9" r="2.78"/>
<circle cx="128.2" cy="191.7" r="2.78"/>
<circle cx="127.6" cy="185.9" r="2.78"/>
<circle cx="128" cy="181.8" r="2.78"/>
<circle cx="127.8" cy="176.7" r="2.78"/>
<circle cx="128.1" cy="172.4" r="2.78"/>
<circle cx="127.9" cy="166.9" r="2.78"/>
<circle cx="127.7" cy="163.1" r="2.78"/>
<circle cx="127.7" cy="157.5" r="2.78"/>
<circle cx="127.5" cy="152.1" r="2.78"/>
<circle cx="128.2" cy="147.7" r="2.78"/>
<circle cx="175.6" cy="220.1" r="2.78"/>
<circle cx="178.3" cy="215.7" r="2.78"/>
<circle cx="180.7" cy="212.2" r="2.78"/>
<circle cx="182.6" cy="207.6" r="2.78"/>
<circle cx="186.1" cy="203.2" r="2.78"/>
<circle cx="188.7" cy="199.5" r="2.78"/>
<circle cx="191.3" cy="195.5" r="2.78"/>
<circle cx="194.9" cy="191.4" r="2.78"/>
<circle cx="196.5" cy="187.9" r="2.78"/>
<circle cx="151.5" cy="186.1" r="2.78"/>
<circle cx="154.6" cy="190.5" r="2.78"/>
<circle cx="157.3" cy="195.3" r="2.78"/>
<circle cx="159.4" cy="199.3" r="2.78"/>
<circle cx="162.7" cy="203.2" r="2.78"/>
<circle cx="164.6" cy="207.6" r="2.78"/>
<circle cx="167.2" cy="212.1" r="2.78"/>
<circle cx="170.1" cy="216" r="2.78"/>
<circle cx="645.9" cy="219.9" r="2.78"/>
<circle cx="648.3" cy="214.8" r="2.78"/>
<circle cx="651.4" cy="211" r="2.78"/>
<circle cx="654.8" cy="207" r="2.78"/>
<circle cx="657.4" cy="202.4" r="2.78"/>
<circle cx="660.5" cy="197.8" r="2.78"/>
<circle cx="662.4" cy="194.1" r="2.78"/>
<circle cx="664.7" cy="190.3" r="2.78"/>
<circle cx="621.8" cy="186.8" r="2.78"/>
<circle cx="624.6" cy="191.7" r="2.78"/>
<circle cx="627.1" cy="194.7" r="2.78"/>
<circle cx="629.3" cy="199.6" r="2.78"/>
<circle cx="632.6" cy="202.6" r="2.78"/>
<circle cx="634.3" cy="206.8" r="2.78"/>
<circle cx="637.4" cy="211.5" r="2.78"/>
<circle cx="639.7" cy="215.6" r="2.78"/>
<circle cx="358.2" cy="190.8" r="2.78"/>
<circle cx="354.7" cy="186.3" r="2.78"/>
<circle cx="350" cy="183" r="2.78"/>
<circle cx="345.3" cy="181" r="2.78"/>
<circle cx="343.1" cy="178.3" r="2.78"/>
<circle cx="337.8" cy="174.5" r="2.78"/>
<circle cx="333.5" cy="171.8" r="2.78"/>
<circle cx="328.7" cy="170.6" r="2.78"/>
<circle cx="325.3" cy="168" r="2.78"/>
<circle cx="321" cy="166.2" r="2.78"/>
<circle cx="316.6" cy="163.3" r="2.78"/>
<circle cx="312.4" cy="160" r="2.78"/>
<circle cx="306.4" cy="158.6" r="2.78"/>
<circle cx="301.2" cy="158.1" r="2.78"/>
<circle cx="295.6" cy="158.5" r="2.78"/>
<circle cx="290.1" cy="158.3" r="2.78"/>
<circle cx="284.9" cy="159.1" r="2.78"/>
<circle cx="280.2" cy="159.5" r="2.78"/>
<circle cx="274.9" cy="159.6" r="2.78"/>
<circle cx="270.1" cy="161.3" r="2.78"/>
<circle cx="265.3" cy="162.4" r="2.78"/>
<circle cx="261" cy="163" r="2.78"/>
<circle cx="256" cy="164.7" r="2.78"/>
<circle cx="250.9" cy="167.9" r="2.78"/>
<circle cx="247.8" cy="170.8" r="2.78"/>
<circle cx="244.4" cy="174.1" r="2.78"/>
<circle cx="240.3" cy="176.6" r="2.78"/>
<circle cx="237.4" cy="181.3" r="2.78"/>
<circle cx="234.8" cy="185.4" r="2.78"/>
<circle cx="233.3" cy="189.7" r="2.78"/>
<circle cx="585.8" cy="189.4" r="2.78"/>
<circle cx="581" cy="185.9" r="2.78"/>
<circle cx="576.8" cy="183.1" r="2.78"/>
<circle cx="572.1" cy="179.7" r="2.78"/>
<circle cx="569.1" cy="177.7" r="2.78"/>
<circle cx="565.2" cy="174.5" r="2.78"/>
<circle cx="561.6" cy="170.8" r="2.78"/>
<circle cx="557.7" cy="167.8" r="2.78"/>
<circle cx="554.8" cy="164.1" r="2.78"/>
<circle cx="550.8" cy="161.3" r="2.78"/>
<circle cx="546.2" cy="156.7" r="2.78"/>
<circle cx="542" cy="155.3" r="2.78"/>
<circle cx="535.6" cy="153.8" r="2.78"/>
<circle cx="531.3" cy="154.1" r="2.78"/>
<circle cx="526.1" cy="153.4" r="2.78"/>
<circle cx="520.8" cy="154.1" r="2.78"/>
<circle cx="516" cy="155.4" r="2.78"/>
<circle cx="510.7" cy="158.1" r="2.78"/>
<circle cx="506.8" cy="160.3" r="2.78"/>
<circle cx="503.6" cy="163.5" r="2.78"/>
<circle cx="499.6" cy="165.6" r="2.78"/>
<circle cx="494.7" cy="168.2" r="2.78"/>
<circle cx="489.9" cy="171.1" r="2.78"/>
<circle cx="485.3" cy="173.4" r="2.78"/>
<circle cx="479.8" cy="175.1" r="2.78"/>
<circle cx="475.7" cy="177.3" r="2.78"/>
<circle cx="471.4" cy="179.4" r="2.78"/>
<circle cx="467.6" cy="183" r="2.78"/>
<circle cx="463.1" cy="186.4" r="2.78"/>
<circle cx="128.4" cy="188.7" r="2.78"/>
<circle cx="129.5" cy="188.9" r="2.78"/>
<circle cx="130.6" cy="188.5" r="2.78"/>
<circle cx="131.9" cy="187.5" r="2.78"/>
<circle cx="133.3" cy="187.2" r="2.78"/>
<circle cx="134.6" cy="187" r="2.78"/>
<circle cx="135.7" cy="187.3" r="2.78"/>
<circle cx="137.4" cy="186.5" r="2.78"/>
<circle cx="138.5" cy="187" r="2.78"/>
<circle cx="140.3" cy="186.6" r="2.78"/>
<circle cx="141.6" cy="187" r="2.78"/>
<circle cx="142.6" cy="186.6" r="2.78"/>
<circle cx="143.9" cy="185.4" r="2.78"/>
<circle cx="145" cy="185.4" r="2.78"/>
<circle cx="146.6" cy="185" r="2.78"/>
<circle cx="148.1" cy="185.4" r="2.78"/>
<circle cx="149.4" cy="185.1" r="2.78"/>
<circle cx="150.4" cy="184.2" r="2.78"/>
<circle cx="151.6" cy="184.9" r="2.78"/>
<circle cx="152.9" cy="184.2" r="2.78"/>
<circle cx="154.4" cy="184.2" r="2.78"/>
<circle cx="155.7" cy="184.6" r="2.78"/>
<circle cx="157.2" cy="183.6" r="2.78"/>
<circle cx="158.7" cy="183.9" r="2.78"/>
<circle cx="160.4" cy="184" r="2.78"/>
<circle cx="161.6" cy="184.3" r="2.78"/>
<circle cx="162.7" cy="183.3" r="2.78"/>
<circle cx="164.3" cy="182.7" r="2.78"/>
<circle cx="165.7" cy="182.5" r="2.78"/>
<circle cx="167.2" cy="183.5" r="2.78"/>
<circle cx="168.7" cy="183.5" r="2.78"/>
<circle cx="169.9" cy="183.2" r="2.78"/>
<circle cx="171.4" cy="182.9" r="2.78"/>
<circle cx="172.8" cy="183.2" r="2.78"/>
<circle cx="174.5" cy="182.6" r="2.78"/>
<circle cx="176.1" cy="182" r="2.78"/>
<circle cx="177.6" cy="182.9" r="2.78"/>
<circle cx="179.4" cy="183.2" r="2.78"/>
<circle cx="180.7" cy="182.5" r="2.78"/>
<circle cx="182.2" cy="182" r="2.78"/>
<circle cx="183.6" cy="182.3" r="2.78"/>
<circle cx="184.7" cy="182.1" r="2.78"/>
<circle cx="186.3" cy="182.3" r="2.78"/>
<circle cx="187.5" cy="182.7" r="2.78"/>
<circle cx="189.2" cy="182.3" r="2.78"/>
<circle cx="190.5" cy="183" r="2.78"/>
<circle cx="192.2" cy="183.6" r="2.78"/>
<circle cx="193.9" cy="183" r="2.78"/>
<circle cx="195.2" cy="183.3" r="2.78"/>
<circle cx="197" cy="184.3" r="2.78"/>
<circle cx="198.1" cy="183.3" r="2.78"/>
<circle cx="199.3" cy="183.5" r="2.78"/>
<circle cx="200.7" cy="184.2" r="2.78"/>
<circle cx="201.9" cy="183.4" r="2.78"/>
<circle cx="203.2" cy="184.1" r="2.78"/>
<circle cx="204.6" cy="185.3" r="2.78"/>
<circle cx="206.2" cy="185" r="2.78"/>
<circle cx="207.7" cy="185.7" r="2.78"/>
<circle cx="208.7" cy="186.3" r="2.78"/>
<circle cx="210.4" cy="186.8" r="2.78"/>
<circle cx="212" cy="186.5" r="2.78"/>
<circle cx="213.3" cy="186.4" r="2.78"/>
<circle cx="214.8" cy="186.8" r="2.78"/>
<circle cx="215.9" cy="187.3" r="2.78"/>
<circle cx="217" cy="187.8" r="2.78"/>
<circle cx="218.1" cy="187.5" r="2.78"/>
<circle cx="219.2" cy="187.9" r="2.78"/>
<circle cx="220.5" cy="188.2" r="2.78"/>
<circle cx="222.2" cy="189.5" r="2.78"/>
<circle cx="223.3" cy="189.2" r="2.78"/>
<circle cx="224.6" cy="189.7" r="2.78"/>
<circle cx="225.7" cy="190.6" r="2.78"/>
<circle cx="227.5" cy="190.2" r="2.78"/>
<circle cx="228.8" cy="189.8" r="2.78"/>
<circle cx="229.9" cy="190.4" r="2.78"/>
<circle cx="231.1" cy="191.2" r="2.78"/>
<circle cx="232.3" cy="190.2" r="2.78"/>
<circle cx="234" cy="191.1" r="2.78"/>
<circle cx="235.1" cy="191.3" r="2.78"/>
<circle cx="236.2" cy="191.3" r="2.78"/>
<circle cx="237.9" cy="191.8" r="2.78"/>
<circle cx="239.5" cy="191" r="2.78"/>
<circle cx="240.8" cy="190.9" r="2.78"/>
<circle cx="242.4" cy="191.5" r="2.78"/>
<circle cx="244" cy="191.2" r="2.78"/>
<circle cx="245.2" cy="192" r="2.78"/>
<circle cx="247" cy="192.1" r="2.78"/>
<circle cx="248.6" cy="192.1" r="2.78"/>
<circle cx="250.2" cy="191.3" r="2.78"/>
<circle cx="251.7" cy="191.5" r="2.78"/>
<circle cx="252.7" cy="191" r="2.78"/>
<circle cx="253.9" cy="191.4" r="2.78"/>
<circle cx="255.5" cy="192.5" r="2.78"/>
<circle cx="256.8" cy="192.4" r="2.78"/>
<circle cx="258.6" cy="192.5" r="2.78"/>
<circle cx="259.9" cy="191.4" r="2.78"/>
<circle cx="261.1" cy="191.4" r="2.78"/>
<circle cx="262.2" cy="192" r="2.78"/>
<circle cx="264" cy="192.4" r="2.78"/>
<circle cx="265.3" cy="192.1" r="2.78"/>
<circle cx="267" cy="191.3" r="2.78"/>
<circle cx="268.5" cy="192.6" r="2.78"/>
<circle cx="270.1" cy="192.3" r="2.78"/>
<circle cx="271.5" cy="191.5" r="2.78"/>
<circle cx="273.2" cy="191.8" r="2.78"/>
<circle cx="274.8" cy="192.7" r="2.78"/>
<circle cx="276.1" cy="191.9" r="2.78"/>
<circle cx="277.9" cy="192.4" r="2.78"/>
<circle cx="279" cy="191.5" r="2.78"/>
<circle cx="280.1" cy="192.7" r="2.78"/>
<circle cx="281.8" cy="191.6" r="2.78"/>
<circle cx="283.4" cy="192.8" r="2.78"/>
<circle cx="285" cy="191.8" r="2.78"/>
<circle cx="286.4" cy="191.5" r="2.78"/>
<circle cx="287.4" cy="192.7" r="2.78"/>
<circle cx="288.9" cy="192.1" r="2.78"/>
<circle cx="290.7" cy="191.9" r="2.78"/>
<circle cx="292.4" cy="192.5" r="2.78"/>
<circle cx="293.5" cy="191.6" r="2.78"/>
<circle cx="294.8" cy="191.6" r="2.78"/>
<circle cx="296.2" cy="191.6" r="2.78"/>
<circle cx="297.6" cy="191.4" r="2.78"/>
<circle cx="299.3" cy="191.7" r="2.78"/>
<circle cx="300.7" cy="192" r="2.78"/>
<circle cx="302.4" cy="191.7" r="2.78"/>
<circle cx="304.1" cy="191.8" r="2.78"/>
<circle cx="305.6" cy="191.8" r="2.78"/>
<circle cx="306.6" cy="191.7" r="2.78"/>
<circle cx="307.7" cy="191" r="2.78"/>
<circle cx="309.4" cy="191.2" r="2.78"/>
<circle cx="310.7" cy="192" r="2.78"/>
<circle cx="312.2" cy="191.4" r="2.78"/>
<circle cx="313.6" cy="191.7" r="2.78"/>
<circle cx="315.2" cy="191" r="2.78"/>
<circle cx="316.7" cy="191.2" r="2.78"/>
<circle cx="317.9" cy="192" r="2.78"/>
<circle cx="319.3" cy="191.6" r="2.78"/>
<circle cx="320.9" cy="192.1" r="2.78"/>
<circle cx="322.3" cy="191.6" r="2.78"/>
<circle cx="323.7" cy="191.4" r="2.78"/>
<circle cx="325.2" cy="191.2" r="2.78"/>
<circle cx="326.6" cy="191.2" r="2.78"/>
<circle cx="328.4" cy="191.5" r="2.78"/>
<circle cx="330.1" cy="191.8" r="2.78"/>
<circle cx="331.3" cy="191.1" r="2.78"/>
<circle cx="333.1" cy="191.5" r="2.78"/>
<circle cx="334.2" cy="190.4" r="2.78"/>
<circle cx="335.5" cy="190.2" r="2.78"/>
<circle cx="336.7" cy="190.2" r="2.78"/>
<circle cx="338.3" cy="191.2" r="2.78"/>
<circle cx="340" cy="190.2" r="2.78"/>
<circle cx="341.5" cy="190.8" r="2.78"/>
<circle cx="342.7" cy="191.1" r="2.78"/>
<circle cx="344.4" cy="189.9" r="2.78"/>
<circle cx="346.2" cy="190" r="2.78"/>
<circle cx="347.6" cy="190.8" r="2.78"/>
<circle cx="349.3" cy="189.4" r="2.78"/>
<circle cx="350.6" cy="189.8" r="2.78"/>
<circle cx="351.9" cy="189.3" r="2.78"/>
<circle cx="353.1" cy="189.8" r="2.78"/>
<circle cx="354.1" cy="189.3" r="2.78"/>
<circle cx="355.5" cy="188.2" r="2.78"/>
<circle cx="356.8" cy="188.9" r="2.78"/>
<circle cx="358.2" cy="187.7" r="2.78"/>
<circle cx="360" cy="188.4" r="2.78"/>
<circle cx="361.7" cy="186.8" r="2.78"/>
<circle cx="362.9" cy="186.3" r="2.78"/>
<circle cx="364.6" cy="186.1" r="2.78"/>
<circle cx="365.7" cy="186" r="2.78"/>
<circle cx="367.4" cy="186.2" r="2.78"/>
<circle cx="368.6" cy="184.9" r="2.78"/>
<circle cx="370.3" cy="185.2" r="2.78"/>
<circle cx="371.9" cy="183.7" r="2.78"/>
<circle cx="372.9" cy="184.6" r="2.78"/>
<circle cx="374.3" cy="182.2" r="2.78"/>
<circle cx="376" cy="182.6" r="2.78"/>
<circle cx="377.7" cy="180.2" r="2.78"/>
<circle cx="379.4" cy="179.2" r="2.78"/>
<circle cx="381.1" cy="179.1" r="2.78"/>
<circle cx="382.3" cy="178.6" r="2.78"/>
<circle cx="384.1" cy="176.5" r="2.78"/>
<circle cx="385.2" cy="176.4" r="2.78"/>
<circle cx="386.4" cy="174.4" r="2.78"/>
<circle cx="387.5" cy="173.4" r="2.78"/>
<circle cx="388.7" cy="173.2" r="2.78"/>
<circle cx="389.9" cy="173.5" r="2.78"/>
<circle cx="391.1" cy="172.1" r="2.78"/>
<circle cx="392.3" cy="171.2" r="2.78"/>
<circle cx="393.3" cy="170.4" r="2.78"/>
<circle cx="394.3" cy="171.2" r="2.78"/>
<circle cx="395.7" cy="169" r="2.78"/>
<circle cx="397.1" cy="170.3" r="2.78"/>
<circle cx="398.2" cy="169.4" r="2.78"/>
<circle cx="399.5" cy="167.9" r="2.78"/>
<circle cx="401.2" cy="167.1" r="2.78"/>
<circle cx="402.6" cy="167.5" r="2.78"/>
<circle cx="404.4" cy="166.2" r="2.78"/>
<circle cx="406.1" cy="166.7" r="2.78"/>
<circle cx="407.6" cy="165.6" r="2.78"/>
<circle cx="408.9" cy="164.6" r="2.78"/>
<circle cx="410" cy="164.8" r="2.78"/>
<circle cx="411.6" cy="165.5" r="2.78"/>
<circle cx="412.7" cy="165.2" r="2.78"/>
<circle cx="414.4" cy="167.5" r="2.78"/>
<circle cx="415.9" cy="166.1" r="2.78"/>
<circle cx="417.1" cy="166.6" r="2.78"/>
<circle cx="418.5" cy="166.7" r="2.78"/>
<circle cx="419.8" cy="167.5" r="2.78"/>
<circle cx="421.6" cy="170" r="2.78"/>
<circle cx="423" cy="168.7" r="2.78"/>
<circle cx="424.8" cy="169.7" r="2.78"/>
<circle cx="426.1" cy="169.7" r="2.78"/>
<circle cx="427.4" cy="171.7" r="2.78"/>
<circle cx="428.8" cy="171.8" r="2.78"/>
<circle cx="430.2" cy="172.1" r="2.78"/>
<circle cx="431.4" cy="173.1" r="2.78"/>
<circle cx="432.7" cy="173.7" r="2.78"/>
<circle cx="433.7" cy="175" r="2.78"/>
<circle cx="434.9" cy="176.4" r="2.78"/>
<circle cx="436.4" cy="177.5" r="2.78"/>
<circle cx="437.9" cy="178.2" r="2.78"/>
<circle cx="439.6" cy="178.2" r="2.78"/>
<circle cx="440.8" cy="180.4" r="2.78"/>
<circle cx="442" cy="180.3" r="2.78"/>
<circle cx="443.5" cy="179.3" r="2.78"/>
<circle cx="445.1" cy="182.3" r="2.78"/>
<circle cx="446.6" cy="182.8" r="2.78"/>
<circle cx="448.3" cy="182.1" r="2.78"/>
<circle cx="449.7" cy="183.9" r="2.78"/>
<circle cx="451.4" cy="185.4" r="2.78"/>
<circle cx="453" cy="185.5" r="2.78"/>
<circle cx="454.8" cy="186.4" r="2.78"/>
<circle cx="456.3" cy="186.4" r="2.78"/>
<circle cx="457.3" cy="186.7" r="2.78"/>
<circle cx="458.6" cy="187.1" r="2.78"/>
<circle cx="460.3" cy="188.1" r="2.78"/>
<circle cx="461.8" cy="188.6" r="2.78"/>
<circle cx="463.3" cy="188.7" r="2.78"/>
<circle cx="464.3" cy="189.4" r="2.78"/>
<circle cx="465.9" cy="189.3" r="2.78"/>
<circle cx="467.4" cy="189.9" r="2.78"/>
<circle cx="468.4" cy="190.2" r="2.78"/>
<circle cx="469.6" cy="189.3" r="2.78"/>
<circle cx="470.8" cy="190.3" r="2.78"/>
<circle cx="472" cy="190.4" r="2.78"/>
<circle cx="473.8" cy="190.1" r="2.78"/>
<circle cx="475.1" cy="190.2" r="2.78"/>
<circle cx="476.6" cy="190.7" r="2.78"/>
<circle cx="478.1" cy="190.6" r="2.78"/>
<circle cx="479.2" cy="189.9" r="2.78"/>
<circle cx="480.4" cy="190.9" r="2.78"/>
<circle cx="481.6" cy="190.6" r="2.78"/>
<circle cx="482.6" cy="189.9" r="2.78"/>
<circle cx="483.9" cy="190.8" r="2.78"/>
<circle cx="485.4" cy="190.8" r="2.78"/>
<circle cx="486.6" cy="190.6" r="2.78"/>
<circle cx="488" cy="190.6" r="2.78"/>
<circle cx="489.1" cy="191.2" r="2.78"/>
<circle cx="490.3" cy="191.4" r="2.78"/>
<circle cx="492" cy="190" r="2.78"/>
<circle cx="493.4" cy="191.2" r="2.78"/>
<circle cx="495.2" cy="190.7" r="2.78"/>
<circle cx="496.4" cy="190.3" r="2.78"/>
<circle cx="498.1" cy="190.3" r="2.78"/>
<circle cx="499.6" cy="190.3" r="2.78"/>
<circle cx="501" cy="191.5" r="2.78"/>
<circle cx="502.1" cy="191.3" r="2.78"/>
<circle cx="503.5" cy="191.4" r="2.78"/>
<circle cx="505.1" cy="190.4" r="2.78"/>
<circle cx="506.8" cy="190.8" r="2.78"/>
<circle cx="507.8" cy="190.1" r="2.78"/>
<circle cx="509.2" cy="190.8" r="2.78"/>
<circle cx="510.5" cy="190.3" r="2.78"/>
<circle cx="511.7" cy="190.6" r="2.78"/>
<circle cx="513.4" cy="190.1" r="2.78"/>
<circle cx="515" cy="191.4" r="2.78"/>
<circle cx="516.1" cy="191.5" r="2.78"/>
<circle cx="517.7" cy="191.5" r="2.78"/>
<circle cx="518.9" cy="190.7" r="2.78"/>
<circle cx="520.2" cy="191.7" r="2.78"/>
<circle cx="521.7" cy="190.7" r="2.78"/>
<circle cx="523" cy="190.6" r="2.78"/>
<circle cx="524.1" cy="190.4" r="2.78"/>
<circle cx="525.8" cy="190.7" r="2.78"/>
<circle cx="527.5" cy="190.6" r="2.78"/>
<circle cx="528.7" cy="191" r="2.78"/>
<circle cx="529.9" cy="190.8" r="2.78"/>
<circle cx="531.6" cy="191.6" r="2.78"/>
<circle cx="533.3" cy="191.2" r="2.78"/>
<circle cx="535" cy="191.7" r="2.78"/>
<circle cx="536.4" cy="191.4" r="2.78"/>
<circle cx="537.5" cy="191.4" r="2.78"/>
<circle cx="538.8" cy="191.5" r="2.78"/>
<circle cx="540.4" cy="190.8" r="2.78"/>
<circle cx="541.4" cy="191.8" r="2.78"/>
<circle cx="542.5" cy="191.1" r="2.78"/>
<circle cx="543.8" cy="190.8" r="2.78"/>
<circle cx="545.4" cy="191.9" r="2.78"/>
<circle cx="546.6" cy="191.4" r="2.78"/>
<circle cx="547.8" cy="191.3" r="2.78"/>
<circle cx="549.1" cy="190.7" r="2.78"/>
<circle cx="550.3" cy="190.8" r="2.78"/>
<circle cx="552" cy="191.2" r="2.78"/>
<circle cx="553.2" cy="191.8" r="2.78"/>
<circle cx="555" cy="191.2" r="2.78"/>
<circle cx="556.1" cy="190.8" r="2.78"/>
<circle cx="557.1" cy="191" r="2.78"/>
<circle cx="558.2" cy="190.9" r="2.78"/>
<circle cx="559.4" cy="191.4" r="2.78"/>
<circle cx="561.1" cy="191.7" r="2.78"/>
<circle cx="562.5" cy="191.2" r="2.78"/>
<circle cx="563.9" cy="191.2" r="2.78"/>
<circle cx="565.2" cy="190.7" r="2.78"/>
<circle cx="566.4" cy="192.1" r="2.78"/>
<circle cx="567.5" cy="191.4" r="2.78"/>
<circle cx="569" cy="191.9" r="2.78"/>
<circle cx="570.2" cy="191.1" r="2.78"/>
<circle cx="571.4" cy="191.3" r="2.78"/>
<circle cx="572.7" cy="192.1" r="2.78"/>
<circle cx="574.4" cy="192" r="2.78"/>
<circle cx="575.4" cy="190.8" r="2.78"/>
<circle cx="577" cy="192.1" r="2.78"/>
<circle cx="578.4" cy="191.6" r="2.78"/>
<circle cx="579.4" cy="191.3" r="2.78"/>
<circle cx="581.1" cy="192" r="2.78"/>
<circle cx="582.8" cy="192.1" r="2.78"/>
<circle cx="584" cy="190.8" r="2.78"/>
<circle cx="585.1" cy="191.4" r="2.78"/>
<circle cx="586.6" cy="191.9" r="2.78"/>
<circle cx="588.2" cy="191.4" r="2.78"/>
<circle cx="589.8" cy="191.1" r="2.78"/>
<circle cx="591.3" cy="190.4" r="2.78"/>
<circle cx="592.9" cy="190.7" r="2.78"/>
<circle cx="594.6" cy="191.2" r="2.78"/>
<circle cx="595.9" cy="190.3" r="2.78"/>
<circle cx="597.1" cy="190.9" r="2.78"/>
<circle cx="598.6" cy="189.9" r="2.78"/>
<circle cx="599.7" cy="190.3" r="2.78"/>
<circle cx="601.2" cy="189.9" r="2.78"/>
<circle cx="602.3" cy="190" r="2.78"/>
<circle cx="603.4" cy="189.4" r="2.78"/>
<circle cx="604.7" cy="190.2" r="2.78"/>
<circle cx="606.2" cy="189.8" r="2.78"/>
<circle cx="607.6" cy="188.4" r="2.78"/>
<circle cx="608.8" cy="189.2" r="2.78"/>
<circle cx="610.4" cy="187.9" r="2.78"/>
<circle cx="611.4" cy="187.9" r="2.78"/>
<circle cx="612.9" cy="187.4" r="2.78"/>
<circle cx="614.1" cy="187.5" r="2.78"/>
<circle cx="615.9" cy="186.3" r="2.78"/>
<circle cx="616.9" cy="186.2" r="2.78"/>
<circle cx="618.2" cy="186.4" r="2.78"/>
<circle cx="619.4" cy="186.2" r="2.78"/>
<circle cx="621" cy="185.4" r="2.78"/>
<circle cx="622.2" cy="185.8" r="2.78"/>
<circle cx="623.4" cy="185.2" r="2.78"/>
<circle cx="624.6" cy="184" r="2.78"/>
<circle cx="626.2" cy="183.7" r="2.78"/>
<circle cx="628" cy="183.8" r="2.78"/>
<circle cx="629.1" cy="183.3" r="2.78"/>
<circle cx="630.4" cy="183.9" r="2.78"/>
<circle cx="632.2" cy="183" r="2.78"/>
<circle cx="633.5" cy="183" r="2.78"/>
<circle cx="635.3" cy="182.7" r="2.78"/>
<circle cx="636.3" cy="182.6" r="2.78"/>
<circle cx="637.7" cy="183.7" r="2.78"/>
<circle cx="639.4" cy="183.4" r="2.78"/>
<circle cx="641.2" cy="183.6" r="2.78"/>
<circle cx="642.4" cy="182.4" r="2.78"/>
<circle cx="644.2" cy="183.2" r="2.78"/>
<circle cx="645.2" cy="183.1" r="2.78"/>
<circle cx="646.5" cy="182.7" r="2.78"/>
<circle cx="647.8" cy="182.4" r="2.78"/>
<circle cx="648.8" cy="182.6" r="2.78"/>
<circle cx="650.1" cy="183.7" r="2.78"/>
<circle cx="651.1" cy="183.8" r="2.78"/>
<circle cx="652.3" cy="182.9" r="2.78"/>
<circle cx="654" cy="183.6" r="2.78"/>
<circle cx="655.3" cy="182.5" r="2.78"/>
<circle cx="656.7" cy="183.1" r="2.78"/>
<circle cx="658.4" cy="183" r="2.78"/>
<circle cx="659.7" cy="184.1" r="2.78"/>
<circle cx="660.7" cy="183.4" r="2.78"/>
<circle cx="662.4" cy="184.1" r="2.78"/>
<circle cx="663.4" cy="183.1" r="2.78"/>
<circle cx="664.5" cy="184.5" r="2.78"/>
<circle cx="665.7" cy="184.4" r="2.78"/>
<circle cx="667.4" cy="184.1" r="2.78"/>
<circle cx="668.6" cy="185.2" r="2.78"/>
<circle cx="670.1" cy="184.4" r="2.78"/>
<circle cx="671.7" cy="184.7" r="2.78"/>
<circle cx="672.9" cy="184.4" r="2.78"/>
<circle cx="674.5" cy="186.1" r="2.78"/>
<circle cx="676" cy="186.5" r="2.78"/>
<circle cx="677" cy="185.6" r="2.78"/>
<circle cx="678.4" cy="187" r="2.78"/>
<circle cx="680.2" cy="186.5" r="2.78"/>
<circle cx="681.4" cy="186.8" r="2.78"/>
<circle cx="682.8" cy="187.8" r="2.78"/>
<circle cx="683.9" cy="187.8" r="2.78"/>
<circle cx="685.5" cy="188.2" r="2.78"/>
<circle cx="687.1" cy="188.2" r="2.78"/>
<circle cx="688.4" cy="188" r="2.78"/>
<circle cx="689.7" cy="189" r="2.78"/>
<circle cx="690.8" cy="188.3" r="2.78"/>
</g>
<g stroke="#000" stroke-width="1.11" fill="none">
<rect x="100.5" y="60.5" width="620" height="385"/>
<path d="M128.5 445.5V450.4M222.5 445.5V450.4M316.5 445.5V450.4M410.5 445.5V450.4M504.5 445.5V450.4M598.5 445.5V450.4M692.5 445.5V450.4M100.5 71.5H95.6M100.5 130.5H95.6M100.5 190.5H95.6M100.5 249.5H95.6M100.5 308.5H95.6M100.5 368.5H95.6M100.5 427.5H95.6"/>
</g>
<g font-family="'DejaVu Sans','Liberation Sans',sans-serif" font-size="13.889px" fill="#000">
<g text-anchor="middle">
<text x="127.68" y="466">−0.6</text>
<text x="221.62" y="466">−0.4</text>
<text transform="translate(316.06 466) scale(0.96 1)">−0.2</text>
<text transform="translate(410.25 466) scale(0.94 1)">0.0</text>
<text transform="translate(504.44 466) scale(0.95 1)">0.2</text>
<text transform="translate(598.38 466) scale(0.94 1)">0.4</text>
<text transform="translate(692.32 466) scale(0.94 1)">0.6</text>
<text transform="translate(410 485) scale(0.98 1)">Phase</text>
<text transform="translate(50.5 254) rotate(-90)">Normalized PDC flux</text>
<text transform="translate(409.8 52) scale(0.918 1)" font-size="18.06px">TIC 0099465976, period 0.6244 days</text>
</g><g text-anchor="end">
<text transform="translate(89.5 75.67) scale(0.92 1)">40</text>
<text transform="translate(90.5 135.6) scale(0.98 1)">20</text>
<text transform="translate(90.5 194.62) scale(0.96 1)">0</text>
<text transform="translate(90 253.64) scale(0.98 1)">−20</text>
<text transform="translate(90 313.56) scale(0.98 1)">−40</text>
<text transform="translate(89 372.58) scale(0.96 1)">−60</text>
<text transform="translate(89 431.61) scale(0.96 1)">−80</text>
</g></g>
</svg>
</body></html>
